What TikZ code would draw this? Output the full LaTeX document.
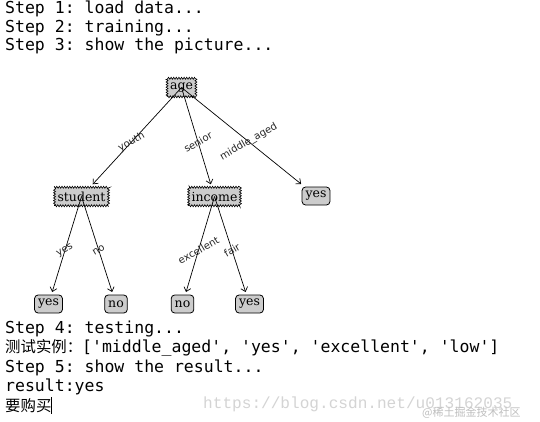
\documentclass[tikz,border=0pt]{standalone}
\usepackage{fontspec}
\setmonofont{DejaVu Sans Mono}
\newfontfamily\cjk{Noto Sans CJK SC}
\newfontfamily\nodefont{DejaVu Serif}
\newfontfamily\lblfont{DejaVu Sans}
\newfontfamily\wmfont{Liberation Mono}
\usetikzlibrary{decorations.pathmorphing,arrows.meta,calc}
\definecolor{nodegray}{HTML}{CCCCCC}
\definecolor{wmgray}{HTML}{D4D4D4}
\tikzset{
  term/.style={anchor=base west, inner sep=0pt, font=\ttfamily\fontsize{16.5}{18}\selectfont},
  decision/.style={draw, fill=nodegray, line width=0.6pt, inner xsep=3pt, inner ysep=0pt,
    minimum height=18.5pt, font=\nodefont\fontsize{12.5}{13}\selectfont,
    decorate, decoration={zigzag, segment length=2.6pt, amplitude=1pt}, outer sep=3pt},
  leaf/.style={draw, fill=nodegray, line width=0.8pt, rounded corners=3.5pt, inner xsep=3.5pt, inner ysep=0pt,
    minimum height=18pt, font=\nodefont\fontsize{12.5}{13}\selectfont, outer sep=3pt},
  edge/.style={line width=0.7pt, -{Straight Barb[length=4pt,width=7pt]}},
  lbl/.style={rotate=30, inner sep=0pt, text=black!85, font=\lblfont\fontsize{10}{11}\selectfont},
}
\begin{document}
\begin{tikzpicture}[x=1pt,y=-1pt]
\useasboundingbox[fill=white] (0,0) rectangle (540,421);
% terminal text
\node[term] (s1) at (5,13) {Step 1: load data...};
\node[term] (s2) at (5,32) {Step 2: training...};
\node[term] (s3) at (5,50.5) {Step 3: show the picture...};
\node[term] (s4) at (5,333) {Step 4: testing...};
\node[term] (t1) at (5,352) {{\cjk\fontsize{15.4}{18}\selectfont 测试实例：}['middle\_aged', 'yes', 'excellent', 'low']};
\node[term] (s5) at (5,372) {Step 5: show the result...};
\node[term] (r1) at (5,391) {result:yes};
\node[term, font=\cjk\fontsize{15.4}{18}\selectfont] (r2) at (5,411) {要购买};
\coordinate (cur1) at (51,397);
\coordinate (cur2) at (51,414);
\draw[line width=0.8pt] (cur1) -- (cur2);
% watermark
\node[anchor=base west, inner sep=0pt, text=wmgray, font=\wmfont\fontsize{16.1}{18}\selectfont] (wm1) at (203,408) {https://blog.csdn.net/u013162035};
\node[anchor=base west, inner sep=0pt, text=wmgray!90!black, font=\cjk\fontsize{11}{12}\selectfont] (wm2) at (422,416) {@稀土掘金技术社区};
% tree
\node[decision] (age) at (181.5,87.5) {age};
\node[decision] (student) at (81.5,196.5) {student};
\node[decision] (income) at (214.5,196.5) {income};
\node[leaf] (yesR) at (316,196) {yes};
\node[leaf] (yes1) at (48.5,304) {yes};
\node[leaf] (no1) at (116,304) {no};
\node[leaf] (no2) at (182.5,304) {no};
\node[leaf] (yes2) at (249.5,304) {yes};
\draw[edge] (age.center) -- (student);
\draw[edge] (age.center) -- (income);
\draw[edge] (age.center) -- (yesR);
\draw[edge] (student.center) -- (yes1);
\draw[edge] (student.center) -- (no1);
\draw[edge] (income.center) -- (no2);
\draw[edge] (income.center) -- (yes2);
\node[lbl] (l1) at ($(age.center)!0.5!(student.center)$) {youth};
\node[lbl] (l2) at ($(age.center)!0.5!(income.center)$) {senior};
\node[lbl] (l3) at ($(age.center)!0.5!(yesR.center)$) {middle\_aged};
\node[lbl] (l4) at ($(student.center)!0.5!(yes1.center)$) {yes};
\node[lbl] (l5) at ($(student.center)!0.5!(no1.center)$) {no};
\node[lbl] (l6) at ($(income.center)!0.5!(no2.center)$) {excellent};
\node[lbl] (l7) at ($(income.center)!0.5!(yes2.center)$) {fair};
\end{tikzpicture}
\end{document}
